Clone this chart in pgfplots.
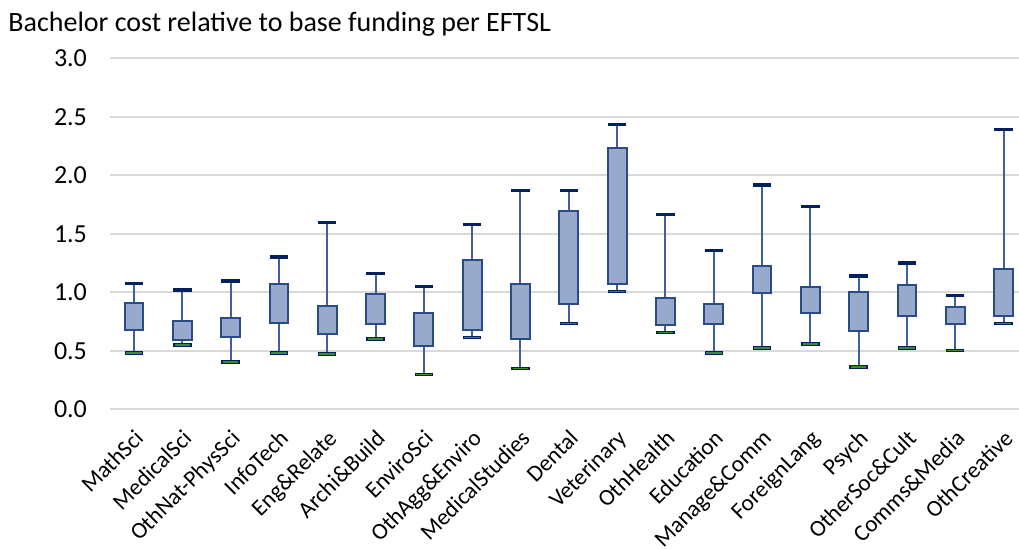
\documentclass[border=0pt]{standalone}
\usepackage{pgfplots}
\usepackage{pgfplotstable}
\usepgfplotslibrary{statistics}
\pgfplotsset{compat=1.18}
\usepackage{fontspec}
\setmainfont{Carlito}

\definecolor{boxfill}{HTML}{98AACB}
\definecolor{boxline}{HTML}{2A4A8A}
\definecolor{whisk}{HTML}{3F5F9E}
\definecolor{capnavy}{HTML}{002060}
\definecolor{capgreen}{HTML}{3C8A34}
\definecolor{gridgray}{HTML}{D9D9D9}

% whisker ends, used for the caps
\pgfplotstableread{
i  lw    uw
0  0.481 1.073
1  0.550 1.020
2  0.404 1.097
3  0.481 1.302
4  0.473 1.598
5  0.601 1.162
6  0.296 1.051
7  0.612 1.578
8  0.350 1.872
9  0.732 1.872
10 1.005 2.433
11 0.655 1.667
12 0.481 1.359
13 0.524 1.917
14 0.558 1.732
15 0.362 1.139
16 0.524 1.250
17 0.504 0.974
18 0.732 2.390
}\whiskers

\pgfplotsset{
  bx/.style n args={5}{draw=whisk, boxplot prepared={draw position=#1,
      lower whisker=#2, lower quartile=#3, median=#3,
      upper quartile=#4, upper whisker=#5}},
}

\begin{document}
\begin{tikzpicture}
\begin{axis}[
    name=ax,
    scale only axis,
    width=454.5pt, height=175.5pt,
    xmin=-0.497, xmax=18.32,
    ymin=0, ymax=3,
    ytick={0,0.5,...,3},
    xtick={0,...,18},
    xticklabels={MathSci,MedicalSci,OthNat-PhysSci,InfoTech,Eng\&Relate,Archi\&Build,EnviroSci,OthAgg\&Enviro,MedicalStudies,Dental,Veterinary,OthHealth,Education,Manage\&Comm,ForeignLang,Psych,OtherSoc\&Cult,Comms\&Media,OthCreative},
    xticklabel style={rotate=45, anchor=north east, font=\fontsize{11.6}{14}\selectfont, yshift=-3pt, xshift=-3.5pt},
    yticklabel style={font=\fontsize{13}{15}\selectfont, xshift=-8pt},
    /pgf/number format/.cd, fixed, fixed zerofill, precision=1, assume math mode=true,
    /pgfplots/.cd,
    ymajorgrids,
    grid style={gridgray, line width=0.8pt},
    axis line style={draw=none},
    major tick length=0pt,
    tick style={draw=none},
    boxplot/draw direction=y,
    boxplot/box extend=0.39,
    boxplot/whisker extend=0,
    boxplot/draw/median/.code={},
    boxplot/every box/.style={draw=boxline, fill=boxfill, line width=1pt},
    boxplot/every whisker/.style={draw=whisk, line width=1pt},
]
\addplot[bx={0}{0.481}{0.680}{0.906}{1.073}] coordinates {};
\addplot[bx={1}{0.550}{0.592}{0.755}{1.020}] coordinates {};
\addplot[bx={2}{0.404}{0.615}{0.778}{1.097}] coordinates {};
\addplot[bx={3}{0.481}{0.740}{1.071}{1.302}] coordinates {};
\addplot[bx={4}{0.473}{0.644}{0.886}{1.598}] coordinates {};
\addplot[bx={5}{0.601}{0.732}{0.983}{1.162}] coordinates {};
\addplot[bx={6}{0.296}{0.538}{0.820}{1.051}] coordinates {};
\addplot[bx={7}{0.612}{0.680}{1.279}{1.578}] coordinates {};
\addplot[bx={8}{0.350}{0.604}{1.071}{1.872}] coordinates {};
\addplot[bx={9}{0.732}{0.897}{1.695}{1.872}] coordinates {};
\addplot[bx={10}{1.005}{1.074}{2.233}{2.433}] coordinates {};
\addplot[bx={11}{0.655}{0.720}{0.951}{1.667}] coordinates {};
\addplot[bx={12}{0.481}{0.732}{0.897}{1.359}] coordinates {};
\addplot[bx={13}{0.524}{0.997}{1.225}{1.917}] coordinates {};
\addplot[bx={14}{0.558}{0.820}{1.048}{1.732}] coordinates {};
\addplot[bx={15}{0.362}{0.667}{1.005}{1.139}] coordinates {};
\addplot[bx={16}{0.524}{0.797}{1.059}{1.250}] coordinates {};
\addplot[bx={17}{0.504}{0.732}{0.874}{0.974}] coordinates {};
\addplot[bx={18}{0.732}{0.797}{1.202}{2.390}] coordinates {};
% whisker caps
\addplot[only marks, mark=-, mark size=4.6pt, mark options={draw=capnavy, line width=1.7pt}]
  table[x=i, y=uw]{\whiskers};
\addplot[only marks, mark=-, mark size=4.6pt, mark options={draw=capnavy, line width=1.7pt}]
  table[x=i, y=lw]{\whiskers};
\addplot[only marks, mark=-, mark size=3.9pt, mark options={draw=capgreen, line width=0.6pt}]
  table[x=i, y=lw]{\whiskers};
\end{axis}
\node[anchor=base west, inner sep=0pt, xshift=-51pt, yshift=13.6pt, font=\fontsize{14}{16}\selectfont]
  at (ax.north west) {Bachelor cost relative to base funding per EFTSL};
\pgfresetboundingbox
\path[use as bounding box] ([xshift=-55pt, yshift=-69.85pt]ax.south west)
  rectangle ([yshift=29.15pt]ax.north east);
\end{tikzpicture}
\end{document}
